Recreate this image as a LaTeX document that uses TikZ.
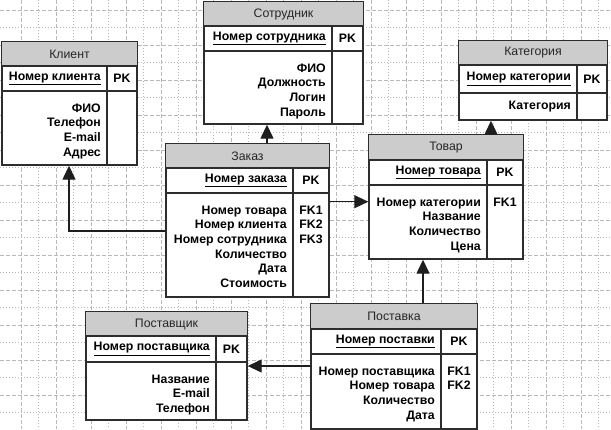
\documentclass[tikz,border=0pt]{standalone}
\usepackage{fontspec}
\setmainfont{Liberation Sans}
\usetikzlibrary{arrows.meta,fit}
\definecolor{hdr}{RGB}{204,204,204}
\definecolor{gridc}{RGB}{185,185,185}
\definecolor{edge}{RGB}{45,45,45}
\definecolor{connc}{RGB}{30,30,30}
\tikzset{
 tablebox/.style={draw=edge, line width=1.4pt, fill=white, inner sep=0pt},
 tline/.style={draw=edge, line width=1.1pt},
 ttitle/.style={font=\fontsize{12.3}{14}\selectfont, text=black!85, inner sep=0pt},
 pkname/.style={font=\fontsize{12.3}{14}\selectfont\bfseries, anchor=east, inner sep=0pt},
 keytag/.style={font=\fontsize{12.3}{14}\selectfont\bfseries, inner sep=0pt},
 fields/.style={font=\fontsize{12.3}{14.7}\selectfont\bfseries, align=right, anchor=north east, inner sep=0pt},
 fks/.style={font=\fontsize{12.3}{14.7}\selectfont\bfseries, align=left, anchor=north, inner sep=0pt},
 conn/.style={draw=connc, line width=1.3pt, -{Triangle[length=14pt 0 0,width=13pt 0 0]}},
 gmajor/.style={draw=gridc, line width=0.8pt, dash pattern=on 4pt off 2pt},
 gminor/.style={draw=gridc, line width=0.8pt, dash pattern=on 1.3pt off 1.7pt},
}
% #1 name, #2 x1, #3 y1, #4 x2, #5 y2, #6 x divider, #7 header bottom, #8 key row bottom, #9 title
\newcommand\ertable[9]{%
 \node[tablebox, fit={(#2,#3) (#4,#5)}] (#1) {};
 \fill[hdr] (#2,#3) rectangle (#4,#7);
 \draw[tline] (#2,#7) -- (#4,#7);
 \draw[tline] (#2,#8) -- (#4,#8);
 \draw[tline] (#6,#7) -- (#6,#5);
 \draw[tablebox, fill=none] (#1.north west) rectangle (#1.south east);
 \node[ttitle] (#1-title) at ({(#2+#4)/2},{(#3+#7)/2}) {#9};
 \coordinate (#1-kr) at ({#6-6},{(#7+#8)/2});
 \coordinate (#1-kt) at ({(#6+#4)/2},{(#7+#8)/2});
 \coordinate (#1-fr) at ({#6-6},{#8+12.5});
 \coordinate (#1-ft) at ({(#6+#4)/2},{#8+12.5});
}
\begin{document}
\begin{tikzpicture}[x=1pt,y=-1pt]
\useasboundingbox (0,0) rectangle (611,429);
\fill[white] (0,0) rectangle (611,429);
% grid
\foreach \k in {0,...,16} {
  \draw[gmajor] ({21+35*\k},0) -- ({21+35*\k},429);
  \draw[gminor] ({38.5+35*\k},0) -- ({38.5+35*\k},429);
}
\foreach \k in {0,...,11} {
  \draw[gmajor] (0,{10.3+35*\k}) -- (611,{10.3+35*\k});
  \draw[gminor] (0,{27.8+35*\k}) -- (611,{27.8+35*\k});
}
% tables
\ertable{klient}{2}{42}{137}{165}{107}{66}{91}{Клиент}
\node[pkname] (klient-pk) at (klient-kr) {\underline{Номер клиента}};
\node[keytag] (klient-pkt) at (klient-kt) {PK};
\node[fields] (klient-f) at (klient-fr) {ФИО\\Телефон\\E-mail\\Адрес};

\ertable{sotr}{204}{2}{363}{124}{332}{26}{51}{Сотрудник}
\node[pkname] (sotr-pk) at (sotr-kr) {\underline{Номер сотрудника}};
\node[keytag] (sotr-pkt) at (sotr-kt) {PK};
\node[fields] (sotr-f) at (sotr-fr) {ФИО\\Должность\\Логин\\Пароль};

\ertable{zakaz}{166}{144}{329}{297}{293}{168}{193}{Заказ}
\node[pkname] (zakaz-pk) at (zakaz-kr) {\underline{Номер заказа}};
\node[keytag] (zakaz-pkt) at (zakaz-kt) {PK};
\node[fields] (zakaz-f) at (zakaz-fr) {Номер товара\\Номер клиента\\Номер сотрудника\\Количество\\Дата\\Стоимость};
\node[fks] (zakaz-fk) at (zakaz-ft) {FK1\\FK2\\FK3};

\ertable{kat}{459}{41}{607}{120}{577}{65}{93}{Категория}
\node[pkname] (kat-pk) at (kat-kr) {\underline{Номер категории}};
\node[keytag] (kat-pkt) at (kat-kt) {PK};
\node[fields, anchor=east] (kat-f) at (571,107) {Категория};

\ertable{tovar}{369}{135}{523}{259}{487}{160}{185}{Товар}
\node[pkname] (tovar-pk) at (tovar-kr) {\underline{Номер товара}};
\node[keytag] (tovar-pkt) at (tovar-kt) {PK};
\node[fields] (tovar-f) at (tovar-fr) {Номер категории\\Название\\Количество\\Цена};
\node[fks] (tovar-fk) at (tovar-ft) {FK1};

\ertable{postav}{86}{312}{247}{420}{216}{336}{362}{Поставщик}
\node[pkname] (postav-pk) at (postav-kr) {\underline{Номер поставщика}};
\node[keytag] (postav-pkt) at (postav-kt) {PK};
\node[fields] (postav-f) at (postav-fr) {Название\\E-mail\\Телефон};

\ertable{postavka}{311}{304}{477}{429}{441}{329}{354}{Поставка}
\node[pkname] (postavka-pk) at (postavka-kr) {\underline{Номер поставки}};
\node[keytag] (postavka-pkt) at (postavka-kt) {PK};
\node[fields] (postavka-f) at (postavka-fr) {Номер поставщика\\Номер товара\\Количество\\Дата};
\node[fks] (postavka-fk) at (postavka-ft) {FK1\\FK2};

% connectors
\draw[conn] (zakaz.north -| 267,0) -- (sotr.south -| 267,0);
\draw[conn] (zakaz.west |- 0,231) -| (klient.south -| 69,0);
\draw[conn] (zakaz.east |- 0,201.7) -- (tovar.west |- 0,201.7);
\draw[conn] (tovar.north -| 491,0) -- (kat.south -| 491,0);
\draw[conn] (postavka.north -| 423,0) -- (tovar.south -| 423,0);
\draw[conn] (postavka.west |- 0,366) -- (postav.east |- 0,366);
\end{tikzpicture}
\end{document}
